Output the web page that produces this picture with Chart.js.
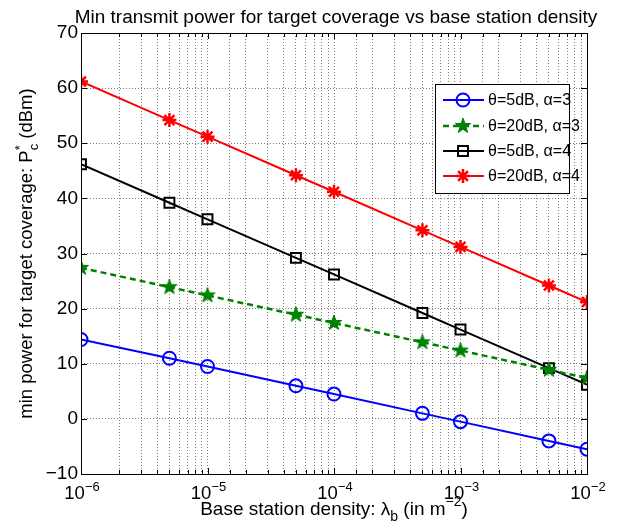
<!DOCTYPE html>
<html>
<head>
<meta charset="utf-8">
<script src="https://cdn.jsdelivr.net/npm/chart.js@4/dist/chart.umd.min.js"></script>
<style>
html, body { margin: 0; padding: 0; background: #fff; }
#wrap { width: 621px; height: 529px; }
</style>
</head>
<body>
<div id="wrap"><canvas id="powerChart" width="621" height="529"></canvas></div>
<script>
// Data
var densities = [1e-6, 5e-6, 1e-5, 5e-5, 1e-4, 5e-4, 1e-3, 5e-3, 1e-2];
var th5a3 = [14.4, 11.0, 9.5, 6.0, 4.5, 1.0, -0.5, -4.0, -5.5];
var th20a3 = [27.4, 23.9, 22.4, 18.9, 17.4, 13.9, 12.4, 8.9, 7.4];
var th5a4 = [46.2, 39.2, 36.2, 29.2, 26.2, 19.2, 16.2, 9.2, 6.2];
var th20a4 = [61.2, 54.2, 51.2, 44.2, 41.2, 34.2, 31.2, 24.2, 21.2];
var seriesNames = ['θ=5dB, α=3', 'θ=20dB, α=3', 'θ=5dB, α=4', 'θ=20dB, α=4'];
var xTickExps = [-6, -5, -4, -3, -2];
var yTickValues = [70, 60, 50, 40, 30, 20, 10, 0, -10];

var FONT = '"Liberation Sans", Arial, Helvetica, sans-serif';

function pairs(ys) {
    return densities.map(function(d, i) { return {x: d, y: ys[i]}; });
}

// green filled pentagram marker
function makePentagram(r, color) {
    var c = document.createElement('canvas');
    var s = Math.ceil(r * 2 + 4);
    c.width = s; c.height = s;
    var g = c.getContext('2d');
    g.beginPath();
    for (var i = 0; i < 10; i++) {
        var rad = (i % 2 === 0) ? r : r * 0.4;
        var a = -Math.PI / 2 + i * Math.PI / 5;
        var px = s / 2 + rad * Math.cos(a), py = s / 2 + rad * Math.sin(a);
        if (i === 0) g.moveTo(px, py); else g.lineTo(px, py);
    }
    g.closePath();
    g.fillStyle = color;
    g.fill();
    g.lineWidth = 1;
    g.strokeStyle = color;
    g.stroke();
    return c;
}
var starImg = makePentagram(8, '#008000');

// text made of normal / sup / sub pieces
function partSize(p, size) {
    return p.s === 'n' ? size : Math.round(size * 0.72);
}
function partsWidth(ctx, parts, size) {
    var w = 0;
    parts.forEach(function(p) {
        ctx.font = partSize(p, size) + 'px ' + FONT;
        if (!p.stack) w += ctx.measureText(p.t).width;
    });
    return w;
}
function drawParts(ctx, parts, x, y, size) {
    var cx = x - partsWidth(ctx, parts, size) / 2;
    ctx.textAlign = 'left';
    ctx.textBaseline = 'alphabetic';
    parts.forEach(function(p) {
        ctx.font = partSize(p, size) + 'px ' + FONT;
        var dy = p.s === 'sup' ? -size * 0.45 : (p.s === 'sub' ? size * 0.3 : 0);
        ctx.fillText(p.t, cx, y + dy);
        if (!p.stack) cx += ctx.measureText(p.t).width;
    });
}

var matlabDecor = {
    id: 'matlabDecor',
    afterDraw: function(chart) {
        var ctx = chart.ctx;
        var a = chart.chartArea;
        var xs = chart.scales.x, ys = chart.scales.y;
        ctx.save();
        ctx.fillStyle = '#000';
        ctx.strokeStyle = '#000';
        ctx.lineWidth = 1;

        // frame
        ctx.strokeRect(Math.round(a.left) + 0.5, Math.round(a.top) + 0.5,
            Math.round(a.right - a.left), Math.round(a.bottom - a.top));

        // tick marks
        ctx.beginPath();
        xs.ticks.forEach(function(t) {
            var px = Math.round(xs.getPixelForValue(t.value)) + 0.5;
            var len = t.major ? 6 : 4;
            ctx.moveTo(px, a.bottom); ctx.lineTo(px, a.bottom - len);
            ctx.moveTo(px, a.top); ctx.lineTo(px, a.top + len);
        });
        yTickValues.forEach(function(v) {
            var py = Math.round(ys.getPixelForValue(v)) + 0.5;
            ctx.moveTo(a.left, py); ctx.lineTo(a.left + 6, py);
            ctx.moveTo(a.right, py); ctx.lineTo(a.right - 6, py);
        });
        ctx.stroke();

        // y tick labels
        ctx.font = '19px ' + FONT;
        ctx.textAlign = 'right';
        ctx.textBaseline = 'middle';
        yTickValues.forEach(function(v) {
            ctx.fillText(v < 0 ? '\u2212' + Math.abs(v) : String(v), a.left - 3, ys.getPixelForValue(v));
        });

        // x tick labels 10^n
        xTickExps.forEach(function(e) {
            var px = xs.getPixelForValue(Math.pow(10, e));
            drawParts(ctx, [{t: '10', s: 'n'}, {t: '\u2212' + Math.abs(e), s: 'sup'}], px + 1, 499, 18.5);
        });

        // title
        ctx.font = '19px ' + FONT;
        ctx.textAlign = 'center';
        ctx.textBaseline = 'alphabetic';
        ctx.fillText('Min transmit power for target coverage vs base station density', (a.left + a.right) / 2 + 2, 23);

        // x label
        drawParts(ctx, [
            {t: 'Base station density: \u03bb', s: 'n'},
            {t: 'b', s: 'sub'},
            {t: ' (in m', s: 'n'},
            {t: '\u22122', s: 'sup'},
            {t: ')', s: 'n'}
        ], (a.left + a.right) / 2, 515, 19);

        // y label
        ctx.save();
        ctx.translate(32, (a.top + a.bottom) / 2);
        ctx.rotate(-Math.PI / 2);
        drawParts(ctx, [
            {t: 'min power for target coverage: P', s: 'n'},
            {t: '*', s: 'sup', stack: true},
            {t: 'c', s: 'sub'},
            {t: ' (dBm)', s: 'n'}
        ], 0, 0, 18.5);
        ctx.restore();

        // legend
        var lx = 435, ly = 84, lw = 134, lh = 109;
        ctx.fillStyle = '#fff';
        ctx.fillRect(lx, ly, lw, lh);
        ctx.strokeStyle = '#000';
        ctx.lineWidth = 1;
        ctx.strokeRect(lx + 0.5, ly + 0.5, lw, lh);
        var rows = [100, 126, 151, 176];
        chart.data.datasets.forEach(function(ds, i) {
            var y = rows[i];
            ctx.save();
            ctx.strokeStyle = ds.borderColor;
            ctx.lineWidth = ds.borderWidth;
            ctx.setLineDash(ds.borderDash || []);
            ctx.beginPath();
            ctx.moveTo(443, y); ctx.lineTo(484, y);
            ctx.stroke();
            ctx.setLineDash([]);
            ctx.fillStyle = ds.pointBackgroundColor;
            ctx.strokeStyle = ds.pointBorderColor;
            ctx.lineWidth = ds.pointBorderWidth;
            Chart.helpers.drawPoint(ctx, {
                pointStyle: ds.pointStyle, radius: ds.pointRadius,
                borderWidth: ds.pointBorderWidth, rotation: 0
            }, 463, y);
            ctx.restore();
            ctx.fillStyle = '#000';
            ctx.font = '16px ' + FONT;
            ctx.textAlign = 'left';
            ctx.textBaseline = 'middle';
            ctx.fillText(ds.label, 488, y + 1);
        });
        ctx.restore();
    }
};

var ctx = document.getElementById('powerChart').getContext('2d');
var chart = new Chart(ctx, {
    type: 'line',
    data: {
        datasets: [{
            label: seriesNames[0],
            data: pairs(th5a3),
            borderColor: '#0000ff',
            borderWidth: 2,
            pointStyle: 'circle',
            pointRadius: 6.5,
            pointBorderWidth: 2,
            pointBorderColor: '#0000ff',
            pointBackgroundColor: 'rgba(0,0,0,0)'
        }, {
            label: seriesNames[1],
            data: pairs(th20a3),
            borderColor: '#008000',
            borderWidth: 2.5,
            borderDash: [6, 4],
            pointStyle: starImg,
            pointRadius: 8,
            pointBorderWidth: 1,
            pointBorderColor: '#008000',
            pointBackgroundColor: '#008000'
        }, {
            label: seriesNames[2],
            data: pairs(th5a4),
            borderColor: '#000000',
            borderWidth: 2,
            pointStyle: 'rect',
            pointRadius: 7,
            pointBorderWidth: 2,
            pointBorderColor: '#000000',
            pointBackgroundColor: 'rgba(0,0,0,0)'
        }, {
            label: seriesNames[3],
            data: pairs(th20a4),
            borderColor: '#ff0000',
            borderWidth: 2,
            pointStyle: 'star',
            pointRadius: 7,
            pointBorderWidth: 2.5,
            pointBorderColor: '#ff0000',
            pointBackgroundColor: '#ff0000'
        }]
    },
    options: {
        responsive: false,
        animation: false,
        layout: { padding: { left: 81, right: 34, top: 33, bottom: 55 } },
        plugins: { legend: { display: false }, tooltip: { enabled: false }, title: { display: false } },
        scales: {
            x: {
                type: 'logarithmic',
                min: 1e-6,
                max: 1e-2,
                ticks: { display: false },
                grid: { color: 'rgba(0,0,0,0.5)', lineWidth: 1, drawTicks: false },
                border: { display: false, dash: [1, 2] }
            },
            y: {
                type: 'linear',
                min: -10,
                max: 70,
                ticks: { display: false, stepSize: 10 },
                grid: { color: 'rgba(0,0,0,0.5)', lineWidth: 1, drawTicks: false },
                border: { display: false, dash: [1, 2] }
            }
        }
    },
    plugins: [matlabDecor]
});
</script>
</body>
</html>
